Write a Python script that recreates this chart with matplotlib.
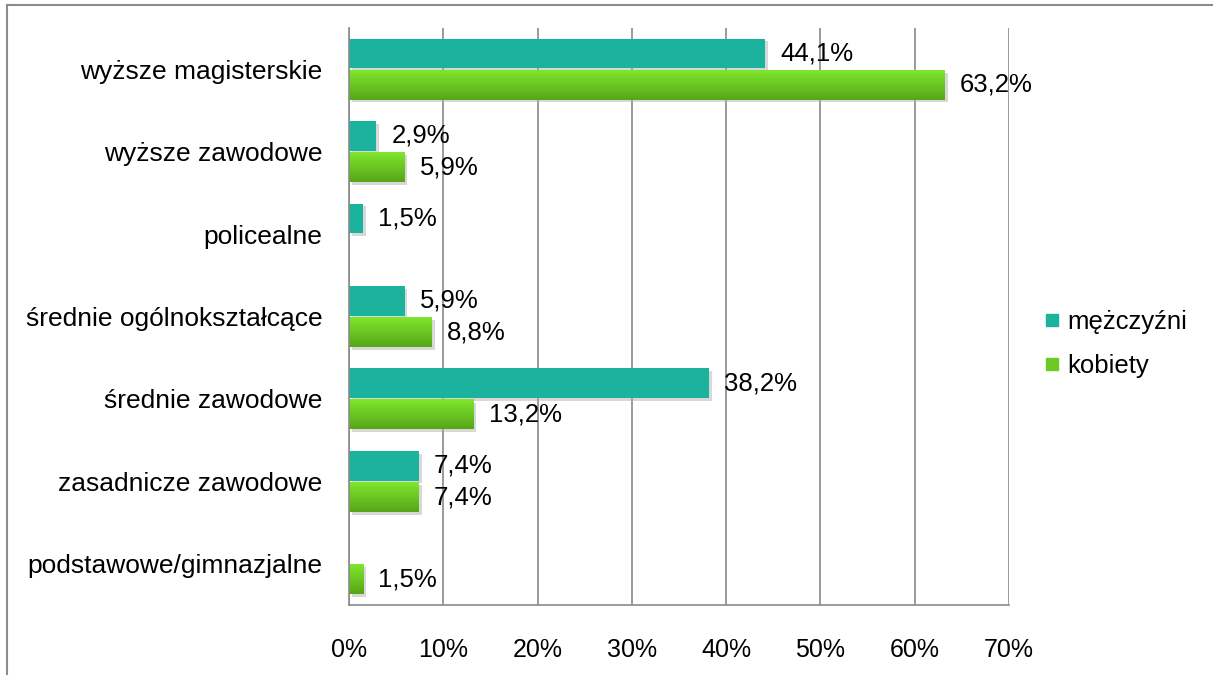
import matplotlib.pyplot as plt
import matplotlib.patheffects as pe
from matplotlib.lines import Line2D
import numpy as np

plt.rcParams['font.family'] = ['Liberation Sans', 'DejaVu Sans']

categories = ['wyższe magisterskie', 'wyższe zawodowe', 'policealne',
              'średnie ogólnokształcące', 'średnie zawodowe',
              'zasadnicze zawodowe', 'podstawowe/gimnazjalne']
men = [44.1, 2.9, 1.5, 5.9, 38.2, 7.4, 0.0]
women = [63.2, 5.9, 0.0, 8.8, 13.2, 7.4, 1.5]
series_names = ['mężczyźni', 'kobiety']
xticks = [0, 10, 20, 30, 40, 50, 60, 70]

teal = '#1bb29e'
green_top = np.array([0x80, 0xe6, 0x2c]) / 255
green_bot = np.array([0x56, 0xa6, 0x18]) / 255
grid_col = '#8a8a8a'

fig = plt.figure(figsize=(12.13, 6.75), dpi=100)
ax = fig.add_axes([349 / 1213, 1 - 605 / 675, 660 / 1213, 577 / 675])

y = np.arange(len(categories))
h = 0.36
off = 0.19
shadow = [pe.SimplePatchShadow(offset=(2, -2), shadow_rgbFace='#aaaaaa', alpha=0.45), pe.Normal()]

bars_m = ax.barh(y - off, men, height=h, color=teal, zorder=3)
bars_w = ax.barh(y + off, women, height=h, color=green_bot, zorder=3)
for b in list(bars_m) + list(bars_w):
    if b.get_width() > 0:
        b.set_path_effects(shadow)

# vertical gradient on the green bars
grad = np.linspace(0, 1, 64)[:, None, None]
img = (green_top * (1 - grad) + green_bot * grad)
for yi, v in zip(y, women):
    if v > 0:
        ax.imshow(img, extent=(0, v, yi + off + h / 2, yi + off - h / 2),
                  origin='upper', aspect='auto', interpolation='bilinear', zorder=4)

for yi, v in zip(y, men):
    if v > 0:
        ax.annotate(f'{v:.1f}%'.replace('.', ','), (v, yi - off), xytext=(11, 0),
                    textcoords='offset points', va='center', ha='left', fontsize=18.5, zorder=5)
for yi, v in zip(y, women):
    if v > 0:
        ax.annotate(f'{v:.1f}%'.replace('.', ','), (v, yi + off), xytext=(11, 0),
                    textcoords='offset points', va='center', ha='left', fontsize=18.5, zorder=5)

ax.set_xlim(0, 70)
ax.set_ylim(len(categories) - 0.5, -0.5)
ax.set_xticks(xticks)
ax.set_xticklabels([f'{t}%' for t in xticks], fontsize=18)
ax.set_yticks(y)
ax.set_yticklabels(categories, fontsize=19)
ax.tick_params(axis='x', length=0, pad=24)
ax.tick_params(axis='y', length=0, pad=19)
ax.grid(axis='x', color=grid_col, linewidth=1.2, zorder=0)
for s in ['top', 'right']:
    ax.spines[s].set_visible(False)
for s in ['left', 'bottom']:
    ax.spines[s].set_color(grid_col)
    ax.spines[s].set_linewidth(1.2)
    ax.spines[s].set_zorder(6)

handles = [Line2D([], [], marker='s', linestyle='none', markersize=8, color=teal),
           Line2D([], [], marker='s', linestyle='none', markersize=8, color='#6ccb22')]
fig.legend(handles, series_names, loc='center left', bbox_to_anchor=(1034 / 1213, 1 - 344 / 675),
           frameon=False, fontsize=18.5, handlelength=0.6, handletextpad=0.3, labelspacing=0.75,
           borderaxespad=0)

# outer frame (left and top edges visible)
fig.add_artist(Line2D([7 / 1213, 7 / 1213], [0, 1 - 5 / 675], color='#8c8c8c', linewidth=1.5))
fig.add_artist(Line2D([7 / 1213, 1], [1 - 5 / 675, 1 - 5 / 675], color='#8c8c8c', linewidth=1.5))

fig.savefig('out.png', dpi=100)
